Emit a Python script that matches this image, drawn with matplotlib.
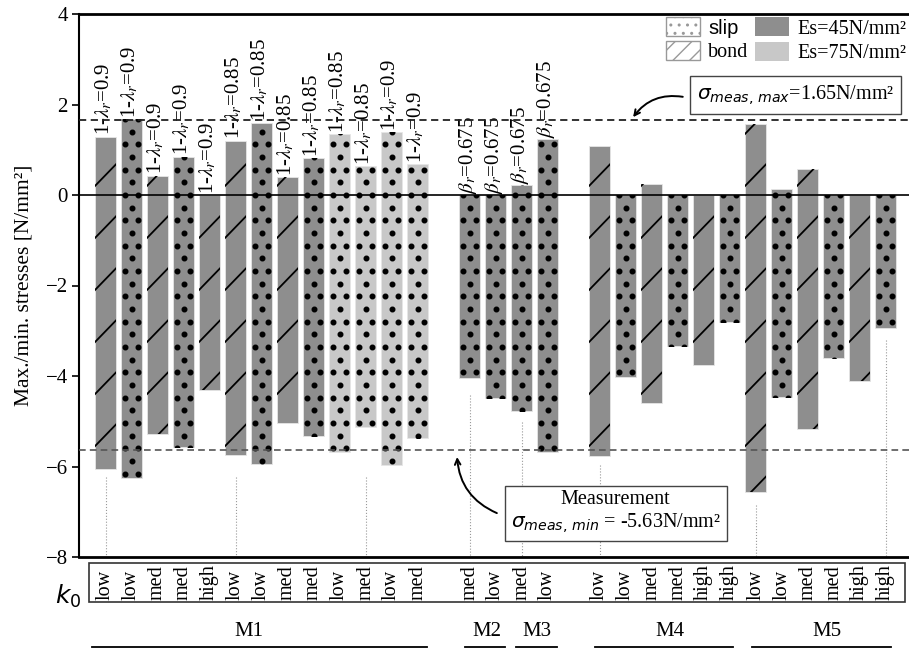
import numpy as np
import matplotlib.pyplot as plt
import matplotlib.transforms as mtransforms
from matplotlib.patches import Patch, Rectangle
from matplotlib.lines import Line2D

plt.rcParams['font.family'] = ['Liberation Serif', 'DejaVu Serif']
plt.rcParams['mathtext.fontset'] = 'dejavusans'

# slot of each bar on the x axis (empty slots 13 and 18 separate the groups)
pos = list(range(0, 13)) + [14, 15, 16, 17] + list(range(19, 31))
k0 = ['low', 'low', 'med', 'med', 'high', 'low', 'low', 'med', 'med', 'low', 'med', 'low', 'med',
      'med', 'low', 'med', 'low',
      'low', 'low', 'med', 'med', 'high', 'high',
      'low', 'low', 'med', 'med', 'high', 'high']
model = ['bond', 'slip', 'bond', 'slip', 'bond', 'bond', 'slip', 'bond', 'slip', 'slip', 'slip', 'slip', 'slip',
         'slip', 'slip', 'slip', 'slip',
         'bond', 'slip', 'bond', 'slip', 'bond', 'slip',
         'bond', 'slip', 'bond', 'slip', 'bond', 'slip']
es = [45] * 9 + [75] * 4 + [45] * 16
s_max = [1.29, 1.67, 0.43, 0.85, 0.0, 1.20, 1.60, 0.40, 0.82, 1.35, 0.64, 1.39, 0.68,
         0.0, 0.0, 0.22, 1.23,
         1.08, 0.0, 0.24, 0.0, 0.0, 0.0,
         1.58, 0.13, 0.57, 0.0, 0.0, 0.0]
s_min = [-6.06, -6.26, -5.29, -5.56, -4.32, -5.75, -5.95, -5.03, -5.32, -5.69, -5.12, -5.97, -5.38,
         -4.04, -4.49, -4.77, -5.69,
         -5.77, -4.03, -4.59, -3.33, -3.76, -2.81,
         -6.57, -4.46, -5.18, -3.61, -4.10, -2.93]
params = (['1-$\\lambda_r$=0.9'] * 5 + ['1-$\\lambda_r$=0.85'] * 6 + ['1-$\\lambda_r$=0.9'] * 2
          + ['$\\beta_r$=0.675'] * 4 + [''] * 12)

groups = ['M1', 'M2', 'M3', 'M4', 'M5']
group_x = [5.5, 14.65, 16.6, 21.7, 27.75]
group_from = [-0.52, 13.83, 15.8, 18.83, 24.87]
group_to = [12.37, 15.37, 17.37, 24.13, 30.2]

guide_pos = [0, 5, 10, 14, 16, 19, 25, 30]
guide_top = [-6.23, -6.23, -6.23, -4.42, -5.01, -5.97, -6.85, -3.20]

meas_max = 1.65
meas_min = -5.63

DARK = '#8e8e8e'
LIGHT = '#c8c8c8'
W = 0.81

fig = plt.figure(figsize=(9.09, 6.49), dpi=100)
ax = fig.add_axes([79 / 909, 1 - 557 / 649, 1 - 79 / 909, 543 / 649])

colors = [DARK if e == 45 else LIGHT for e in es]
bars = ax.bar(pos, np.array(s_max) - np.array(s_min), bottom=s_min, width=W,
              color=colors, edgecolor='#e6e6e6', linewidth=0.6, zorder=2)

# fill patterns, clipped to each bar
for b, p, m, lo, hi in zip(bars, pos, model, s_min, s_max):
    if m == 'slip':
        dy = 0.28
        xs, ys = [], []
        for k in range(int(np.floor(lo / dy)) - 1, int(np.ceil(hi / dy)) + 2):
            offs = [-0.25, 0.25] if k % 2 == 0 else [0.0]
            for o in offs:
                xs.append(p + o)
                ys.append(k * dy)
        ln, = ax.plot(xs, ys, 'o', ms=3.3, color='black', zorder=2.5)
        ln.set_clip_path(b)
    else:
        per = 1.15
        for k in range(int(np.floor(lo / per)) - 1, int(np.ceil(hi / per)) + 1):
            y0 = k * per + 0.2
            ln, = ax.plot([p - W / 2, p + W / 2], [y0, y0 + 0.48], color='black', lw=1.3, zorder=2.5)
            ln.set_clip_path(b)

for p, hi, lab in zip(pos, s_max, params):
    if lab:
        ax.annotate(lab, (p, hi), xytext=(-1, 1), textcoords='offset points', rotation=90,
                    ha='center', va='bottom', fontsize=15, math_fontfamily='stix')

ax.axhline(0, color='black', lw=1.2, zorder=3)
ax.axhline(meas_max, color='#222222', lw=1.3, ls=(0, (4, 2.5)), zorder=3)
ax.axhline(meas_min, color='#555555', lw=1.2, ls=(0, (4, 2.5)), zorder=3)

for p, t in zip(guide_pos, guide_top):
    ax.plot([p, p], [t, -8], color='#999999', lw=0.8, ls=':', zorder=1)

# annotation boxes
ax.text(26.54, 2.21, r'$\sigma_{meas,\,max}$=1.65N/mm²', ha='center', va='center', fontsize=14.5,
        bbox=dict(boxstyle='square,pad=0.35', fc='white', ec='#444444', lw=1), zorder=5)
ax.annotate('', xy=(20.29, 1.72), xytext=(22.2, 2.17),
            arrowprops=dict(arrowstyle='->', color='black', lw=1.4,
                            connectionstyle='arc3,rad=0.3', shrinkA=0, shrinkB=0))
ax.text(19.62, -7.02, 'Measurement\n$\\sigma_{meas,\\,min}$ = -5.63N/mm²', ha='center', va='center',
        multialignment='center', fontsize=14.5, linespacing=1.15,
        bbox=dict(boxstyle='square,pad=0.3', fc='white', ec='#444444', lw=1), zorder=5)
ax.annotate('', xy=(13.52, -5.79), xytext=(15.05, -7.03),
            arrowprops=dict(arrowstyle='->', color='black', lw=1.4,
                            connectionstyle='arc3,rad=-0.3', shrinkA=0, shrinkB=0))

handles = [Patch(fc='white', ec='#999999', hatch='..', label='slip'),
           Patch(fc='white', ec='#999999', hatch='//', label='bond'),
           Patch(fc=DARK, ec='none', label='Es=45N/mm²'),
           Patch(fc=LIGHT, ec='none', label='Es=75N/mm²')]
leg = ax.legend(handles=handles, ncol=2, loc='upper right', bbox_to_anchor=(906 / 909, 1 - 17 / 649),
                bbox_transform=fig.transFigure, frameon=False, fontsize=14.5, handlelength=1.7,
                handleheight=1.1, handletextpad=0.4, columnspacing=0.3, labelspacing=0.15,
                borderpad=0, borderaxespad=0)
leg.get_texts()[0].set_family('Liberation Sans')

# axes styling
ax.set_xlim(-1.02, 30.9)
ax.set_ylim(-8, 4)
ax.set_yticks(range(-8, 5, 2))
ax.set_xticks([])
ax.tick_params(axis='y', direction='out', length=5, width=1.2, labelsize=15, pad=3)
ax.spines['right'].set_visible(False)
ax.spines['top'].set_linewidth(2)
ax.spines['bottom'].set_linewidth(2)
ax.spines['left'].set_linewidth(1.5)
ax.set_ylabel('Max./min. stresses [N/mm²]', fontsize=15.5, labelpad=9)

# k0 category box below the axes
trans = mtransforms.blended_transform_factory(ax.transData, fig.transFigure)
fig.add_artist(Rectangle((89 / 909, 1 - 602 / 649), 816 / 909, 39 / 649, transform=fig.transFigure,
                         fill=False, ec='#333333', lw=1.2))
fig.text(68 / 909, 1 - 596 / 649, '$k_0$', fontsize=18, ha='center', va='center')
for p, lab in zip(pos, k0):
    ax.text(p, 1 - 600 / 649, lab, rotation=90, ha='center', va='bottom', fontsize=14.5,
            transform=trans, clip_on=False)

for g, gx, g0, g1 in zip(groups, group_x, group_from, group_to):
    ax.text(gx, 1 - 632 / 649, g, ha='center', va='center', fontsize=15, transform=trans)
    fig.add_artist(Line2D([g0, g1], [1 - 647 / 649] * 2, transform=trans, color='black', lw=1.3))

fig.savefig('out.png', dpi=100)
